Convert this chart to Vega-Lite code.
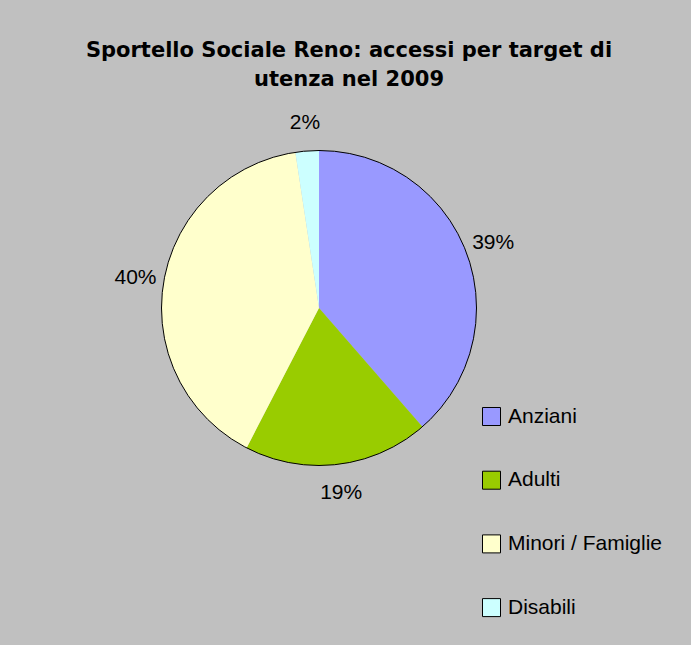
{
  "$schema": "https://vega.github.io/schema/vega-lite/v6.json",
  "width": 638,
  "height": 616,
  "autosize": {"type": "none"},
  "padding": {"left": 0, "top": 0, "right": 53, "bottom": 29},
  "background": "#C0C0C0",
  "config": {"view": {"stroke": null}},
  "title": {
    "text": ["Sportello Sociale Reno: accessi per target di", "utenza nel 2009"],
    "font": "DejaVu Sans",
    "fontSize": 21,
    "fontWeight": "bold",
    "color": "#000000",
    "anchor": "middle",
    "frame": "group",
    "offset": 0,
    "dy": 107,
    "dx": 30,
    "baseline": "alphabetic",
    "lineHeight": 29
  },
  "data": {
    "values": [
      {"target": "Anziani", "value": 38.6, "label": "39%", "idx": 1},
      {"target": "Adulti", "value": 19.0, "label": "19%", "idx": 2},
      {"target": "Minori / Famiglie", "value": 40.0, "label": "40%", "idx": 3},
      {"target": "Disabili", "value": 2.4, "label": "2%", "idx": 4}
    ]
  },
  "layer": [
    {
      "mark": {"type": "arc", "outerRadius": 157.5, "stroke": null, "opacity": 1},
      "encoding": {
        "theta": {"field": "value", "type": "quantitative", "stack": true},
        "order": {"field": "idx", "type": "quantitative"},
        "color": {
          "field": "target",
          "type": "nominal",
          "scale": {
            "domain": ["Anziani", "Adulti", "Minori / Famiglie", "Disabili"],
            "range": ["#9999FF", "#99CC00", "#FFFFCC", "#CCFFFF"]
          },
          "legend": {
            "title": null,
            "orient": "none",
            "legendX": 481,
            "legendY": 406,
            "padding": 0,
            "symbolType": "square",
            "symbolSize": 324,
            "symbolStrokeColor": "#000000",
            "symbolStrokeWidth": 1,
            "symbolOpacity": 1,
            "labelFont": "Liberation Sans",
            "labelFontSize": 21,
            "labelColor": "#000000",
            "labelOffset": 6,
            "rowPadding": 40.7,
            "labelLimit": 300
          }
        }
      }
    },
    {
      "mark": {"type": "text", "radius": 186, "font": "Liberation Sans", "fontSize": 21, "fill": "#000000", "align": "center", "baseline": "middle"},
      "encoding": {
        "theta": {"field": "value", "type": "quantitative", "stack": true},
        "order": {"field": "idx", "type": "quantitative"},
        "text": {"field": "label", "type": "nominal"}
      }
    },
    {
      "data": {"values": [{"target": "Totale", "value": 100}]},
      "mark": {"type": "arc", "outerRadius": 157.5, "fill": null, "stroke": "#000000", "strokeWidth": 1},
      "encoding": {
        "theta": {"field": "value", "type": "quantitative"}
      }
    }
  ]
}
